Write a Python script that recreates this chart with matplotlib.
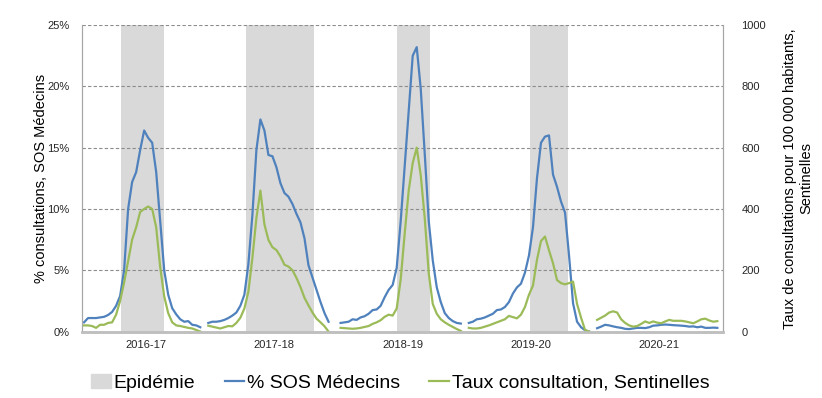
import numpy as np
import matplotlib
matplotlib.use("Agg")
from matplotlib import pyplot as plt
from matplotlib.patches import Patch
from matplotlib.lines import Line2D

plt.rcParams['font.family'] = ['Liberation Sans', 'DejaVu Sans']

seasons = ["2016-17", "2017-18", "2018-19", "2019-20", "2020-21"]
season_start = [0, 31, 64, 96, 128]   # first week position of each season
slots_per_season = 32
n_slots = 160

# % consultations SOS Medecins (left axis), weekly
sos_1617 = [0.75, 1.1, 1.1, 1.1, 1.15, 1.2, 1.35, 1.6, 2.1, 2.9, 5.0, 10.0, 12.2, 13.0, 14.8,
            16.4, 15.8, 15.4, 13.0, 9.0, 5.0, 3.0, 1.9, 1.4, 1.0, 0.8, 0.85, 0.55, 0.5, 0.35]
sos_1718 = [0.7, 0.8, 0.8, 0.85, 0.95, 1.1, 1.3, 1.55, 2.1, 3.0, 5.5, 9.5, 14.8, 17.3, 16.4,
            14.4, 14.3, 13.4, 12.1, 11.3, 11.0, 10.4, 9.6, 8.9, 7.6, 5.4, 4.4, 3.4, 2.4, 1.5, 0.8]
sos_1819 = [0.7, 0.75, 0.8, 1.0, 0.95, 1.15, 1.25, 1.45, 1.75, 1.8, 2.1, 2.8, 3.4, 3.8, 5.2,
            9.0, 13.5, 18.0, 22.5, 23.2, 19.8, 14.5, 9.0, 5.8, 3.6, 2.4, 1.5, 1.1, 0.85, 0.7, 0.65]
sos_1920 = [0.7, 0.8, 1.0, 1.05, 1.15, 1.3, 1.45, 1.75, 1.8, 2.0, 2.4, 3.1, 3.6, 3.9, 4.8,
            6.2, 8.5, 12.5, 15.4, 15.9, 16.0, 12.8, 11.8, 10.6, 9.7, 6.2, 2.3, 0.8, 0.35, 0.1, 0.0]
sos_2021 = [0.27, 0.4, 0.55, 0.5, 0.42, 0.35, 0.3, 0.22, 0.2, 0.25, 0.3, 0.3, 0.28, 0.35, 0.48,
            0.5, 0.55, 0.57, 0.55, 0.52, 0.5, 0.48, 0.45, 0.4, 0.42, 0.35, 0.4, 0.3, 0.3, 0.32, 0.3]

# taux de consultation Sentinelles pour 100 000 (right axis)
senti_1617 = [20, 20, 18, 12, 22, 22, 28, 30, 55, 100, 160, 230, 300, 340, 390,
              400, 408, 400, 340, 210, 115, 60, 30, 20, 18, 15, 12, 10, 5, 0]
senti_1718 = [19, 16, 13, 10, 14, 18, 17, 28, 45, 75, 130, 240, 370, 460, 350,
              299, 275, 266, 245, 218, 212, 200, 175, 145, 110, 85, 62, 42, 30, 17, 0]
senti_1819 = [12, 11, 10, 9, 10, 12, 15, 18, 25, 30, 37, 48, 55, 52, 75,
              170, 320, 460, 550, 600, 510, 370, 190, 90, 58, 40, 30, 22, 15, 8, 2]
senti_1920 = [12, 10, 10, 12, 16, 20, 25, 30, 35, 40, 51, 47, 43, 55, 80,
              120, 150, 234, 295, 310, 265, 223, 168, 158, 154, 158, 163, 90, 45, 5, 0]
senti_2021 = [38, 45, 52, 62, 66, 62, 40, 28, 20, 16, 18, 25, 33, 28, 33,
              29, 27, 33, 38, 35, 35, 35, 33, 30, 27, 33, 40, 42, 36, 32, 34]

# epidemic periods, in week positions
epi_start = [9.2, 40.3, 78.1, 111.2]
epi_end = [19.9, 57.4, 86.4, 120.8]

sos_all = [sos_1617, sos_1718, sos_1819, sos_1920, sos_2021]
senti_all = [senti_1617, senti_1718, senti_1819, senti_1920, senti_2021]

x = np.arange(n_slots)
sos = np.full(n_slots, np.nan)
senti = np.full(n_slots, np.nan)
for st, s_vals, g_vals in zip(season_start, sos_all, senti_all):
    sos[st:st + len(s_vals)] = s_vals
    senti[st:st + len(g_vals)] = g_vals

blue = '#4F81BD'
green = '#9BBB59'
shade = '#D9D9D9'
axis_col = '#A6A6A6'

fig = plt.figure(figsize=(8.22, 3.98), dpi=100)
ax = fig.add_axes([0.0998, 0.167, 0.7802, 0.770])
ax2 = ax.twinx()

for a, b in zip(epi_start, epi_end):
    ax.axvspan(a, b, color=shade, lw=0, zorder=0)

ax.set_axisbelow(True)
ax.yaxis.grid(True, color='#8C8C8C', linestyle=(0, (3, 2)), linewidth=0.8)
ax.plot(x, sos, color=blue, lw=1.6, zorder=3)
ax2.plot(x, senti, color=green, lw=1.6)

ax.set_xlim(-0.5, n_slots - 0.5)
ax.set_ylim(0, 25)
ax2.set_ylim(0, 1000)
ax.set_yticks([0, 5, 10, 15, 20, 25])
ax.set_yticklabels(['%d%%' % v for v in [0, 5, 10, 15, 20, 25]])
ax2.set_yticks([0, 200, 400, 600, 800, 1000])

centers = [k * slots_per_season + (slots_per_season - 1) / 2 for k in range(len(seasons))]
ax.set_xticks(centers)
ax.set_xticklabels(seasons)

for a in (ax, ax2):
    a.tick_params(length=0, labelsize=8, colors='#262626')
    a.spines['top'].set_visible(False)
    a.spines['left'].set_color(axis_col)
    a.spines['right'].set_color(axis_col)
    a.spines['bottom'].set_color('#BFBFBF')
    a.spines['bottom'].set_linewidth(1.8)
ax.tick_params(axis='y', pad=9)
ax.tick_params(axis='x', pad=6)
ax2.tick_params(axis='y', pad=13)
ax2.set_yticklabels(['0', '200', '400', '600', '800', '1000'])

ax.set_ylabel('% consultations, SOS Médecins', fontsize=10.5)
ax.yaxis.set_label_coords(-0.064, 0.5)
ax.yaxis.label.set(va='center', ha='center')
ax2.set_ylabel('Taux de consultations pour 100 000 habitants,\nSentinelles',
               fontsize=10.5, rotation=90, multialignment='center')
ax2.yaxis.set_label_coords(1.117, 0.5)
ax2.yaxis.label.set(va='center', ha='center')

handles = [Patch(color=shade, label='Epidémie'),
           Line2D([], [], color=blue, lw=1.6, label='% SOS Médecins'),
           Line2D([], [], color=green, lw=1.6, label='Taux consultation, Sentinelles')]
fig.legend(handles=handles, loc='center', bbox_to_anchor=(0.487, 0.038), ncol=3,
           frameon=False, fontsize=14, handlelength=1.0, handletextpad=0.15,
           columnspacing=1.5)

fig.savefig('out.png', dpi=100)
